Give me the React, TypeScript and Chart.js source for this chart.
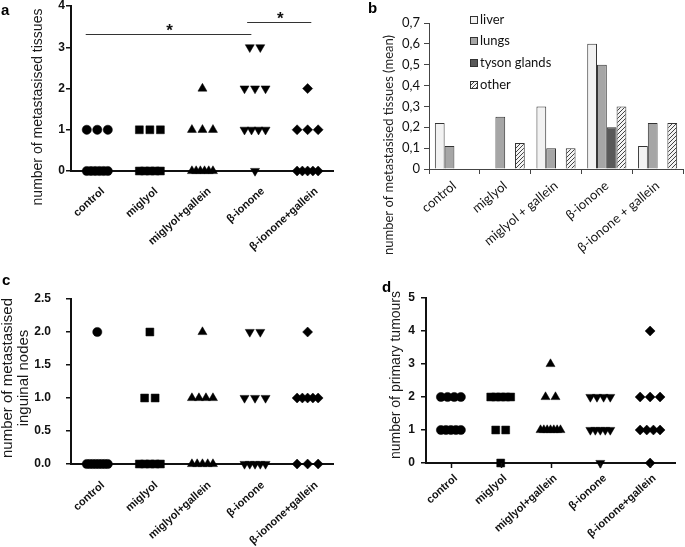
// Four-panel figure (a–d): metastasis scatter plots and organ bar chart, drawn with Chart.js
import React, { useEffect, useRef } from "react";
import { Chart, registerables } from "chart.js";
Chart.register(...registerables);

// ---------- data ----------
const groupNames = ["control", "miglyol", "miglyol+gallein", "β-ionone", "β-ionone+gallein"];
const groupNamesB = ["control", "miglyol", "miglyol + gallein", "β-ionone", "β-ionone + gallein"];

// (a) number of metastasised tissues per animal
const tissuesControl = [1, 1, 1, 0, 0, 0, 0, 0, 0];
const tissuesMiglyol = [1, 1, 1, 0, 0, 0, 0, 0];
const tissuesMiglyolGallein = [2, 1, 1, 1, 0, 0, 0, 0, 0, 0];
const tissuesIonone = [3, 3, 2, 2, 2, 1, 1, 1, 1, 0];
const tissuesIononeGallein = [2, 1, 1, 1, 0, 0, 0, 0, 0];

// (b) mean metastasised tissues by organ
const organNames = ["liver", "lungs", "tyson glands", "other"];
const liverMean = [0.22, 0, 0.3, 0.6, 0.11];
const lungsMean = [0.11, 0.25, 0.1, 0.5, 0.22];
const tysonMean = [0, 0, 0, 0.2, 0];
const otherMean = [0, 0.125, 0.1, 0.3, 0.22];

// (c) number of metastasised inguinal nodes
const nodesControl = [2, 0, 0, 0, 0, 0, 0, 0, 0];
const nodesMiglyol = [2, 1, 1, 0, 0, 0, 0, 0];
const nodesMiglyolGallein = [2, 1, 1, 1, 1, 0, 0, 0, 0, 0];
const nodesIonone = [2, 2, 1, 1, 1, 0, 0, 0, 0, 0];
const nodesIononeGallein = [2, 1, 1, 1, 1, 1, 0, 0, 0];

// (d) number of primary tumours
const tumoursControl = [2, 2, 2, 2, 1, 1, 1, 1, 1];
const tumoursMiglyol = [2, 2, 2, 2, 2, 1, 1, 0];
const tumoursMiglyolGallein = [3, 2, 2, 1, 1, 1, 1, 1, 1, 1];
const tumoursIonone = [2, 2, 2, 2, 1, 1, 1, 1, 1, 0];
const tumoursIononeGallein = [4, 2, 2, 2, 1, 1, 1, 1, 0];

// significance brackets in panel a (group positions, y value)
const sigBrackets = [
  { x1: 0.78, x2: 3.93, y: 3.32, label: "*" },
  { x1: 3.85, x2: 5.07, y: 3.62, label: "*" },
];

// ---------- styles ----------
const ARIAL = "'Liberation Sans', Arial, sans-serif";
const CAL = "Lato, 'Liberation Sans', sans-serif";
const MARKERS = [
  { style: "circle", rot: 0, r: 4.6 },
  { style: "rect", rot: 0, r: 5.6 },
  { style: "triangle", rot: 0, r: 5.2 },
  { style: "triangle", rot: 180, r: 5.2 },
  { style: "rectRot", rot: 0, r: 5 },
];

type Area = { l: number; t: number; r: number; b: number };

const AREA_A: Area = { l: 71, t: 5, r: 339, b: 171 };
const AREA_B: Area = { l: 89, t: 23, r: 343, b: 169 };
const AREA_C: Area = { l: 71, t: 29, r: 339, b: 194 };
const AREA_D: Area = { l: 86, t: 28, r: 335, b: 193 };

function spreadRow(vals: number[], maxStep = 0.2, maxSpan = 0.4) {
  const counts = new Map<number, number>();
  const seen = new Map<number, number>();
  vals.forEach((v) => counts.set(v, (counts.get(v) || 0) + 1));
  return vals.map((v) => {
    const n = counts.get(v) as number;
    const i = seen.get(v) || 0;
    seen.set(v, i + 1);
    const step = n > 1 ? Math.min(maxStep, maxSpan / (n - 1)) : 0;
    return { y: v, dx: (i - (n - 1) / 2) * step };
  });
}

function vText(ctx: CanvasRenderingContext2D, text: string, x: number, y: number, font: string, color = "#1a1a1a") {
  ctx.save();
  ctx.translate(x, y);
  ctx.rotate(-Math.PI / 2);
  ctx.font = font;
  ctx.fillStyle = color;
  ctx.textAlign = "center";
  ctx.textBaseline = "middle";
  ctx.fillText(text, 0, 0);
  ctx.restore();
}

function hText(ctx: CanvasRenderingContext2D, text: string, x: number, y: number, font: string, align: CanvasTextAlign = "left", color = "#000") {
  ctx.save();
  ctx.font = font;
  ctx.fillStyle = color;
  ctx.textAlign = align;
  ctx.textBaseline = "alphabetic";
  ctx.fillText(text, x, y);
  ctx.restore();
}

function makeScatter(
  W: number,
  H: number,
  area: Area,
  series: number[][],
  yMax: number,
  yStep: number,
  fmt: (v: number) => string,
  yLabelPad: number,
  xTicks: boolean,
  extra: (chart: any, ctx: CanvasRenderingContext2D) => void
): any {
  const datasets = series.map((vals, gi) => ({
    data: spreadRow(vals).map((p) => ({ x: gi + 1 + p.dx, y: p.y })),
    pointStyle: MARKERS[gi].style,
    pointRotation: MARKERS[gi].rot,
    pointRadius: MARKERS[gi].r,
    pointHoverRadius: MARKERS[gi].r,
    backgroundColor: "#000",
    borderColor: "#000",
    borderWidth: 0.5,
    clip: false,
  }));
  const decor = {
    id: "scatterDecor",
    afterDraw(chart: any) {
      const ctx = chart.ctx as CanvasRenderingContext2D;
      const xs = chart.scales.x;
      const bottom = chart.chartArea.bottom;
      if (xTicks) {
        for (let i = 0; i < groupNames.length; i++) {
          const px = Math.round(xs.getPixelForValue(i + 1)) + 0.5;
          ctx.save();
          ctx.strokeStyle = "#111";
          ctx.lineWidth = 1.5;
          ctx.beginPath();
          ctx.moveTo(px, bottom);
          ctx.lineTo(px, bottom + 5);
          ctx.stroke();
          ctx.restore();
        }
      }
      ctx.save();
      extra(chart, ctx);
      ctx.restore();
    },
  };
  return {
    type: "scatter",
    data: { datasets },
    options: {
      responsive: false,
      animation: false,
      devicePixelRatio: 1,
      layout: { padding: { left: 0, top: area.t, right: W - area.r, bottom: 0 } },
      plugins: { legend: { display: false }, tooltip: { enabled: false } },
      scales: {
        x: {
          type: "linear",
          min: 0.5,
          max: 5.5,
          afterFit: (s: any) => {
            s.height = H - area.b;
            s.paddingLeft = 0;
            s.paddingRight = 0;
          },
          ticks: { display: false },
          grid: { display: false },
          border: { display: true, color: "#111", width: 2 },
        },
        y: {
          min: 0,
          max: yMax,
          afterFit: (s: any) => {
            s.width = area.l;
            s.paddingTop = 0;
            s.paddingBottom = 0;
          },
          ticks: {
            stepSize: yStep,
            callback: (v: number) => fmt(v),
            padding: yLabelPad,
            color: "#111",
            font: { family: ARIAL, size: 12, weight: "bold" },
          },
          grid: { drawOnChartArea: false, tickLength: 5, color: "#111", lineWidth: 1.5 },
          border: { display: true, color: "#111", width: 2 },
        },
      },
    },
    plugins: [decor],
  };
}

function makeHatch(): CanvasPattern | string {
  const c = document.createElement("canvas");
  c.width = 4;
  c.height = 4;
  const g = c.getContext("2d");
  if (!g) return "#ccc";
  g.fillStyle = "#f4f4f4";
  g.fillRect(0, 0, 4, 4);
  g.strokeStyle = "#444";
  g.lineWidth = 1;
  g.beginPath();
  g.moveTo(0, 4);
  g.lineTo(4, 0);
  g.moveTo(-1, 1);
  g.lineTo(1, -1);
  g.moveTo(3, 5);
  g.lineTo(5, 3);
  g.stroke();
  return g.createPattern(c, "repeat") || "#ccc";
}

function makeBar(W: number, H: number, area: Area): any {
  const hatch = makeHatch();
  const fills: any[] = ["#f2f2f2", "#a6a6a6", "#595959", hatch];
  const values = [liverMean, lungsMean, tysonMean, otherMean];
  const datasets = organNames.map((name, i) => ({
    label: name,
    data: values[i],
    backgroundColor: fills[i],
    borderColor: "#333",
    borderWidth: 1,
  }));
  return {
    type: "bar",
    data: { labels: groupNamesB, datasets },
    options: {
      responsive: false,
      animation: false,
      devicePixelRatio: 1,
      datasets: { bar: { categoryPercentage: 0.77, barPercentage: 1 } },
      layout: { padding: { left: 0, top: area.t, right: W - area.r, bottom: 0 } },
      plugins: { legend: { display: false }, tooltip: { enabled: false } },
      scales: {
        x: {
          afterFit: (s: any) => {
            s.height = H - area.b;
            s.paddingLeft = 0;
            s.paddingRight = 0;
          },
          ticks: {
            autoSkip: false,
            maxRotation: 40,
            minRotation: 40,
            padding: 4,
            color: "#111",
            font: { family: CAL, size: 13 },
          },
          grid: { offset: true, drawOnChartArea: false, tickLength: 5, color: "#444", lineWidth: 1 },
          border: { display: true, color: "#444", width: 1 },
        },
        y: {
          min: 0,
          max: 0.7,
          afterFit: (s: any) => {
            s.width = area.l;
            s.paddingTop = 0;
            s.paddingBottom = 0;
          },
          ticks: {
            stepSize: 0.1,
            callback: (v: number) => (Math.abs(v) < 1e-9 ? "0" : v.toFixed(1).replace(".", ",")),
            padding: 4,
            color: "#111",
            font: { family: CAL, size: 13 },
          },
          grid: { drawOnChartArea: false, tickLength: 5, color: "#444", lineWidth: 1 },
          border: { display: true, color: "#444", width: 1 },
        },
      },
    },
    plugins: [
      {
        id: "barDecor",
        afterDraw(chart: any) {
          const ctx = chart.ctx as CanvasRenderingContext2D;
          hText(ctx, "b", 28, 13, `bold 15px ${ARIAL}`);
          vText(ctx, "number of metastasised tissues (mean)", 49, 145, `13px ${CAL}`, "#222");
          const ys = [20, 41, 63, 85];
          organNames.forEach((name, i) => {
            const y = ys[i];
            ctx.save();
            ctx.fillStyle = fills[i];
            ctx.fillRect(130, y - 3.5, 7, 7);
            ctx.strokeStyle = "#333";
            ctx.lineWidth = 1;
            ctx.strokeRect(130.5, y - 3.5, 7, 7);
            ctx.font = `13px ${CAL}`;
            ctx.fillStyle = "#111";
            ctx.textAlign = "left";
            ctx.textBaseline = "middle";
            ctx.fillText(name, 140, y);
            ctx.restore();
          });
        },
      },
    ],
  };
}

// rotated group labels under a scatter panel, as DOM text
function GroupLabels(props: { area: Area; drop: number }) {
  const { area, drop } = props;
  const step = (area.r - area.l) / groupNames.length;
  return (
    <>
      {groupNames.map((g, i) => (
        <div
          key={g}
          style={{ position: "absolute", left: area.l + (i + 0.5) * step + 4, top: area.b + drop, width: 0, height: 0 }}
        >
          <span
            style={{
              position: "absolute",
              right: 0,
              top: -7,
              lineHeight: "14px",
              whiteSpace: "nowrap",
              font: `bold 11px ${ARIAL}`,
              color: "#111",
              transformOrigin: "100% 50%",
              transform: "rotate(-42deg)",
            }}
          >
            {g}
          </span>
        </div>
      ))}
    </>
  );
}

function Panel(props: { left: number; top: number; width: number; height: number; build: () => any; children?: any }) {
  const ref = useRef<HTMLCanvasElement>(null);
  useEffect(() => {
    const chart = new Chart(ref.current as HTMLCanvasElement, props.build());
    return () => chart.destroy();
  }, []);
  const { left, top, width, height } = props;
  return (
    <div style={{ position: "absolute", left, top, width, height }}>
      <canvas ref={ref} width={width} height={height} style={{ position: "absolute", left: 0, top: 0 }} />
      {props.children}
    </div>
  );
}

export default function App() {
  const oneDec = (v: number) => v.toFixed(1);
  const intFmt = (v: number) => String(Math.round(v));
  return (
    <div style={{ position: "fixed", left: 0, top: 0, width: 685, height: 547, background: "#fff", overflow: "hidden" }}>
      <Panel
        left={0}
        top={0}
        width={340}
        height={270}
        build={() =>
          makeScatter(
            340, 270, AREA_A,
            [tissuesControl, tissuesMiglyol, tissuesMiglyolGallein, tissuesIonone, tissuesIononeGallein],
            4, 1, intFmt, 1, false,
            (chart, ctx) => {
              hText(ctx, "a", 1, 15, `bold 15px ${ARIAL}`);
              vText(ctx, "number of metastasised tissues", 38, 107, `14px ${ARIAL}`);
              const xs = chart.scales.x;
              const ys = chart.scales.y;
              sigBrackets.forEach((b) => {
                const x1 = xs.getPixelForValue(b.x1);
                const x2 = xs.getPixelForValue(b.x2);
                const y = Math.round(ys.getPixelForValue(b.y)) + 0.5;
                ctx.strokeStyle = "#333";
                ctx.lineWidth = 1.2;
                ctx.beginPath();
                ctx.moveTo(x1, y);
                ctx.lineTo(x2, y);
                ctx.stroke();
                hText(ctx, b.label, (x1 + x2) / 2 + 1, y + 1, `bold 17px ${ARIAL}`, "center", "#111");
              });
            }
          )
        }
      >
        <GroupLabels area={AREA_A} drop={19} />
      </Panel>
      <Panel left={340} top={0} width={345} height={270} build={() => makeBar(345, 270, AREA_B)} />
      <Panel
        left={0}
        top={270}
        width={340}
        height={277}
        build={() =>
          makeScatter(
            340, 277, AREA_C,
            [nodesControl, nodesMiglyol, nodesMiglyolGallein, nodesIonone, nodesIononeGallein],
            2.5, 0.5, oneDec, 15, false,
            (chart, ctx) => {
              hText(ctx, "c", 2, 15, `bold 15px ${ARIAL}`);
              vText(ctx, "number of metastasised", 8, 108, `15px ${ARIAL}`);
              vText(ctx, "inguinal nodes", 24, 108, `15px ${ARIAL}`);
            }
          )
        }
      >
        <GroupLabels area={AREA_C} drop={20} />
      </Panel>
      <Panel
        left={340}
        top={270}
        width={345}
        height={277}
        build={() =>
          makeScatter(
            345, 277, AREA_D,
            [tumoursControl, tumoursMiglyol, tumoursMiglyolGallein, tumoursIonone, tumoursIononeGallein],
            5, 1, intFmt, 6, true,
            (chart, ctx) => {
              hText(ctx, "d", 42, 22, `bold 15px ${ARIAL}`);
              vText(ctx, "number of primary tumours", 56, 105, `14px ${ARIAL}`);
            }
          )
        }
      >
        <GroupLabels area={AREA_D} drop={14} />
      </Panel>
    </div>
  );
}
